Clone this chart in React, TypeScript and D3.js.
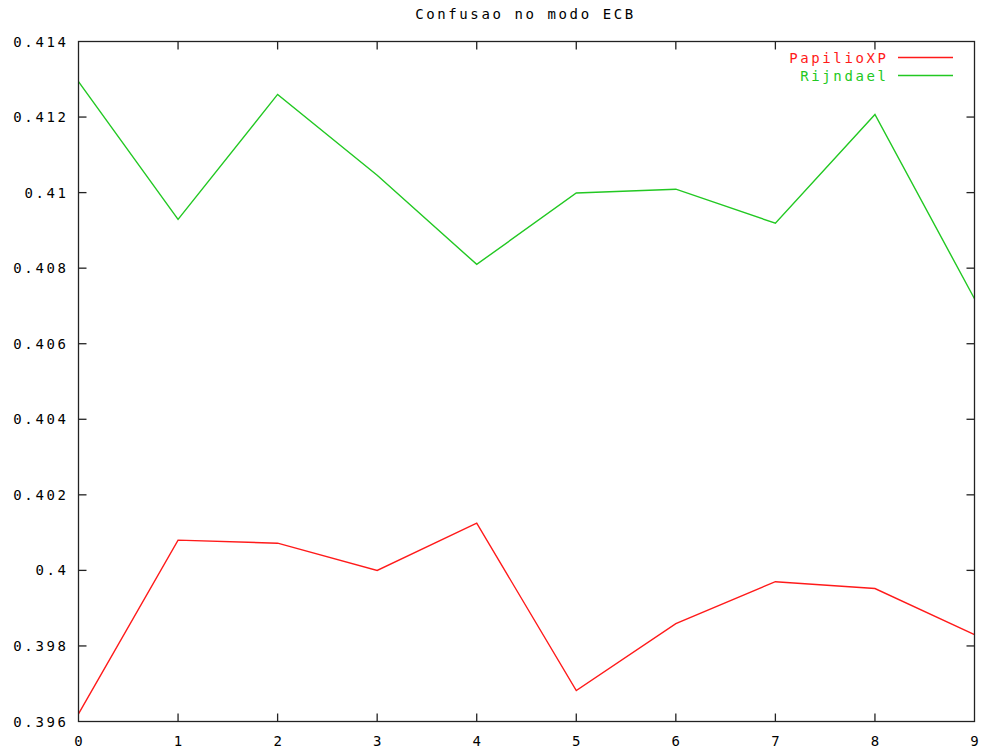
import React from "react";
import * as d3 from "d3";

const title = "Confusao no modo ECB";
const xValues = [0, 1, 2, 3, 4, 5, 6, 7, 8, 9];
const papilioXP = [0.3962, 0.4008, 0.40072, 0.4, 0.40125, 0.39682, 0.39859, 0.3997, 0.39952, 0.3983];
const rijndael = [0.41294, 0.40929, 0.4126, 0.41046, 0.4081, 0.40999, 0.41009, 0.40919, 0.41207, 0.40719];
const yTicks = [0.396, 0.398, 0.4, 0.402, 0.404, 0.406, 0.408, 0.41, 0.412, 0.414];
const yTickLabels = ["0.396", "0.398", "0.4", "0.402", "0.404", "0.406", "0.408", "0.41", "0.412", "0.414"];
const seriesNames = ["PapilioXP", "Rijndael"];
const seriesColors = ["#ff1a1a", "#22c822"];

const W = 987;
const H = 751;
const left = 78.5;
const right = 974.5;
const top = 41.5;
const bottom = 721.5;
const tickLen = 8;
const font = "'DejaVu Sans Mono', monospace";
const fs = 14;
const ls = 2.6;

export default function App() {
  const x = d3.scaleLinear().domain([0, 9]).range([left, right]);
  const y = d3.scaleLinear().domain([0.396, 0.414]).range([bottom, top]);
  const line = d3
    .line<number>()
    .x((_, i) => x(xValues[i]))
    .y((d) => y(d));
  const series = [papilioXP, rijndael];

  return (
    <svg
      width={W}
      height={H}
      style={{ position: "absolute", left: 0, top: 0, background: "#fff" }}
      fontFamily={font}
      fontSize={fs}
    >
      <rect x={0} y={0} width={W} height={H} fill="#fff" />
      <text x={(left + right) / 2 - 1} y={19} textAnchor="middle" letterSpacing={ls} fill="#000">
        {title}
      </text>
      {yTicks.map((t, i) => (
        <g key={"y" + i}>
          {i > 0 && i < yTicks.length - 1 && (
            <>
              <line x1={left} x2={left + tickLen} y1={y(t)} y2={y(t)} stroke="#222" strokeWidth={1.3} />
              <line x1={right} x2={right - tickLen} y1={y(t)} y2={y(t)} stroke="#222" strokeWidth={1.3} />
            </>
          )}
          <text x={68.5} y={y(t) + 5} textAnchor="end" letterSpacing={ls} fill="#000">
            {yTickLabels[i]}
          </text>
        </g>
      ))}
      {xValues.map((v, i) => (
        <g key={"x" + i}>
          {i > 0 && i < xValues.length - 1 && (
            <>
              <line x1={x(v)} x2={x(v)} y1={bottom} y2={bottom - tickLen} stroke="#222" strokeWidth={1.3} />
              <line x1={x(v)} x2={x(v)} y1={top} y2={top + tickLen} stroke="#222" strokeWidth={1.3} />
            </>
          )}
          <text x={x(v) + ls / 2} y={746} textAnchor="middle" letterSpacing={ls} fill="#000">
            {String(v)}
          </text>
        </g>
      ))}
      {series.map((s, k) => (
        <path key={"s" + k} d={line(s) || ""} fill="none" stroke={seriesColors[k]} strokeWidth={1.4} />
      ))}
      <rect x={left} y={top} width={right - left} height={bottom - top} fill="none" stroke="#222" strokeWidth={1.3} />
      {seriesNames.map((n, k) => (
        <g key={"l" + k}>
          <text x={888.5} y={62.5 + k * 18} textAnchor="end" letterSpacing={ls} fill={seriesColors[k]}>
            {n}
          </text>
          <line x1={898} x2={953} y1={57.5 + k * 18} y2={57.5 + k * 18} stroke={seriesColors[k]} strokeWidth={1.4} />
        </g>
      ))}
    </svg>
  );
}
